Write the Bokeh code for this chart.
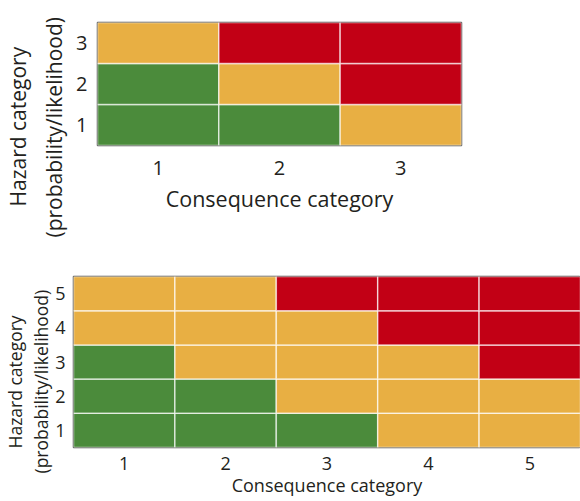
from bokeh.plotting import figure
from bokeh.models import ColumnDataSource, Range1d, FixedTicker, Title
from bokeh.layouts import column
from bokeh.embed import file_html
from bokeh.resources import INLINE

# ---- data -------------------------------------------------------------
risk_colors = {"low": "#4b8b3b", "medium": "#e8af43", "high": "#c20015"}

small_consequence = [1, 2, 3, 1, 2, 3, 1, 2, 3]
small_hazard = [1, 1, 1, 2, 2, 2, 3, 3, 3]
small_risk = ["low", "low", "medium",
              "low", "medium", "high",
              "medium", "high", "high"]
small_ticks = [1, 2, 3]

large_consequence = [1, 2, 3, 4, 5] * 5
large_hazard = [1] * 5 + [2] * 5 + [3] * 5 + [4] * 5 + [5] * 5
large_risk = ["low", "low", "low", "medium", "medium",
              "low", "low", "medium", "medium", "medium",
              "low", "medium", "medium", "medium", "high",
              "medium", "medium", "medium", "high", "high",
              "medium", "medium", "high", "high", "high"]
large_ticks = [1, 2, 3, 4, 5]

x_title = "Consequence category"
y_title_1 = "Hazard category"
y_title_2 = "(probability/likelihood)"

FONT = "Open Sans"
TEXT = "#231f20"


def matrix(cons, haz, risk, ticks, width, height, borders, tick_size,
           title_size, ytitle_size, tick_standoff, ytick_standoff,
           label_standoff, ytitle_standoffs, ytitle_offsets):
    n = len(ticks)
    left, right, top, bottom = borders
    p = figure(width=width, height=height, output_backend="svg",
               toolbar_location=None, tools="",
               x_range=Range1d(0.5, n + 0.5), y_range=Range1d(0.5, n + 0.5),
               min_border_left=left, min_border_right=right,
               min_border_top=top, min_border_bottom=bottom)
    p.frame_align = False
    src = ColumnDataSource(dict(x=cons, y=haz,
                                color=[risk_colors[r] for r in risk]))
    p.rect(x="x", y="y", width=1, height=1, source=src, fill_color="color",
           line_color="white", line_alpha=0.65, line_width=1.5)
    p.grid.visible = False
    p.outline_line_color = "#555555"
    p.outline_line_width = 1.5
    p.background_fill_color = "white"
    p.border_fill_color = "white"
    for ax in (p.xaxis[0], p.yaxis[0]):
        ax.ticker = FixedTicker(ticks=ticks)
        ax.axis_line_color = None
        ax.major_tick_line_color = None
        ax.minor_tick_line_color = None
        ax.major_tick_out = 0
        ax.major_tick_in = 0
        ax.major_label_text_font = FONT
        ax.major_label_text_font_size = f"{tick_size}px"
        ax.major_label_text_color = TEXT
    p.xaxis.major_label_standoff = tick_standoff
    p.yaxis.major_label_standoff = ytick_standoff
    p.yaxis.major_label_orientation = "horizontal"
    p.xaxis.axis_label = x_title
    p.xaxis.axis_label_text_font = FONT
    p.xaxis.axis_label_text_font_size = f"{title_size}px"
    p.xaxis.axis_label_text_font_style = "normal"
    p.xaxis.axis_label_text_color = TEXT
    p.xaxis.axis_label_standoff = label_standoff
    # two-line vertical title, nearest line first
    for txt, so, off in ((y_title_2, ytitle_standoffs[1], ytitle_offsets[1]),
                         (y_title_1, ytitle_standoffs[0], ytitle_offsets[0])):
        p.add_layout(Title(text=txt, align="left", offset=off,
                           standoff=so, text_font=FONT,
                           text_font_size=f"{ytitle_size}px",
                           text_font_style="normal", text_color=TEXT), "left")
    return p


top = matrix(small_consequence, small_hazard, small_risk, small_ticks,
             width=580, height=258, borders=(97, 119, 22, 113),
             tick_size=20, title_size=21.5, ytitle_size=21,
             tick_standoff=15, ytick_standoff=10, label_standoff=6,
             ytitle_standoffs=(0, 12), ytitle_offsets=(-61, -92))

bottom = matrix(large_consequence, large_hazard, large_risk, large_ticks,
                width=580, height=243, borders=(73, 0, 18, 54),
                tick_size=18, title_size=18, ytitle_size=17.5,
                tick_standoff=9, ytick_standoff=8, label_standoff=0,
                ytitle_standoffs=(0, 0), ytitle_offsets=(-1, -26))

layout = column(top, bottom, spacing=0)
open("out.html", "w").write(file_html(layout, INLINE))
